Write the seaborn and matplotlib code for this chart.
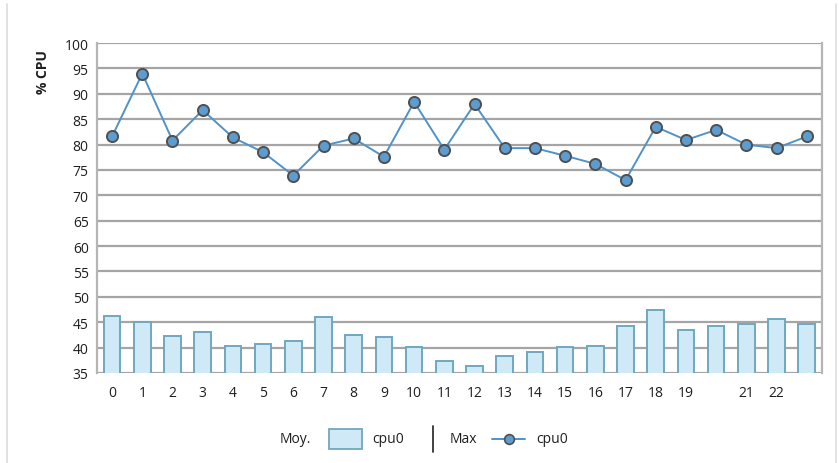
import numpy as np
import pandas as pd
import matplotlib
matplotlib.use("Agg")
import matplotlib.pyplot as plt
import seaborn as sns
from matplotlib.patches import Rectangle
from matplotlib.lines import Line2D

# Data
hours = list(range(24))
tick_labels = [str(h) for h in range(20)] + ["", "21", "22", ""]
cpu_moy = [46.3, 45.1, 42.3, 43.0, 40.4, 40.7, 41.4, 46.0, 42.4, 42.1, 40.1, 37.3,
           36.3, 38.3, 39.1, 40.1, 40.3, 44.2, 47.5, 43.4, 44.2, 44.7, 45.7, 44.7]
cpu_max = [81.6, 94.0, 80.8, 86.8, 81.4, 78.5, 73.9, 79.8, 81.2, 77.6, 88.4, 79.0,
           88.0, 79.3, 79.3, 77.8, 76.2, 73.0, 83.5, 80.9, 82.9, 80.0, 79.3, 81.6]

df = pd.DataFrame({"hour": hours, "moy": cpu_moy, "max": cpu_max})

sns.set_theme(style="white")
plt.rcParams["font.family"] = ["Open Sans", "DejaVu Sans"]

fig = plt.figure(figsize=(8.39, 4.64), dpi=100)
ax = fig.add_axes([0.1156, 0.194, 0.864, 0.711])

bar_face = "#cfe9f6"
bar_edge = "#6fa8bf"
line_col = "#4f93c9"
txt = "#1e1e1e"

sns.barplot(data=df, x="hour", y="moy", ax=ax, color=bar_face, saturation=1,
            width=0.55, edgecolor=bar_edge, linewidth=1.4, zorder=3)
sns.lineplot(x=np.arange(24), y=df["max"], ax=ax, color=line_col, linewidth=1.4,
             marker="o", markersize=8, markerfacecolor="#5d9ccf",
             markeredgecolor="#505050", markeredgewidth=1.4, zorder=4)

ax.set_xlim(-0.5, 23.5)
ax.set_ylim(35, 100)
ax.set_yticks(np.arange(35, 101, 5))
ax.set_xticks(hours)
ax.set_xticklabels(tick_labels)
ax.tick_params(axis="both", labelsize=10, colors=txt, length=0, pad=6)
ax.tick_params(axis="x", pad=9)
ax.set_xlabel("")
ax.set_ylabel("% CPU", fontsize=10, fontweight="bold", color=txt)
ax.yaxis.set_label_coords(-0.065, 0.915)

ax.grid(axis="y", color="#a5a5a5", linewidth=1.6, zorder=0)
for s in ["top", "bottom"]:
    ax.spines[s].set_visible(False)
for s in ["left", "right"]:
    ax.spines[s].set_color("#b5b5b5")
    ax.spines[s].set_linewidth(1.6)

# figure frame
for xs, ys in [([0.008, 0.008], [0.0, 0.99]), ([0.996, 0.996], [0.0, 0.99])]:
    fig.add_artist(Line2D(xs, ys, transform=fig.transFigure, color="#dddddd", lw=1.2))

# legend drawn at the bottom
ly = 1 - 440 / 464
fig.text(280 / 839, ly, "Moy.", fontsize=10, ha="left", va="center", color=txt)
fig.add_artist(Rectangle((329 / 839, ly - 0.022), 33 / 839, 0.044, transform=fig.transFigure,
                         facecolor=bar_face, edgecolor=bar_edge, lw=1.3))
fig.text(372 / 839, ly, "cpu0", fontsize=10, ha="left", va="center", color=txt)
fig.add_artist(Line2D([433 / 839, 433 / 839], [ly - 0.028, ly + 0.028], transform=fig.transFigure,
                      color="#333333", lw=1.3))
fig.text(450 / 839, ly, "Max", fontsize=10, ha="left", va="center", color=txt)
fig.add_artist(Line2D([492 / 839, 525 / 839], [ly, ly], transform=fig.transFigure,
                      color=line_col, lw=1.4))
fig.add_artist(Line2D([508.5 / 839], [ly], transform=fig.transFigure, color=line_col,
                      marker="o", markersize=7, markerfacecolor="#5d9ccf",
                      markeredgecolor="#505050", markeredgewidth=1.2, lw=0))
fig.text(536 / 839, ly, "cpu0", fontsize=10, ha="left", va="center", color=txt)

fig.savefig("out.png", dpi=100)
